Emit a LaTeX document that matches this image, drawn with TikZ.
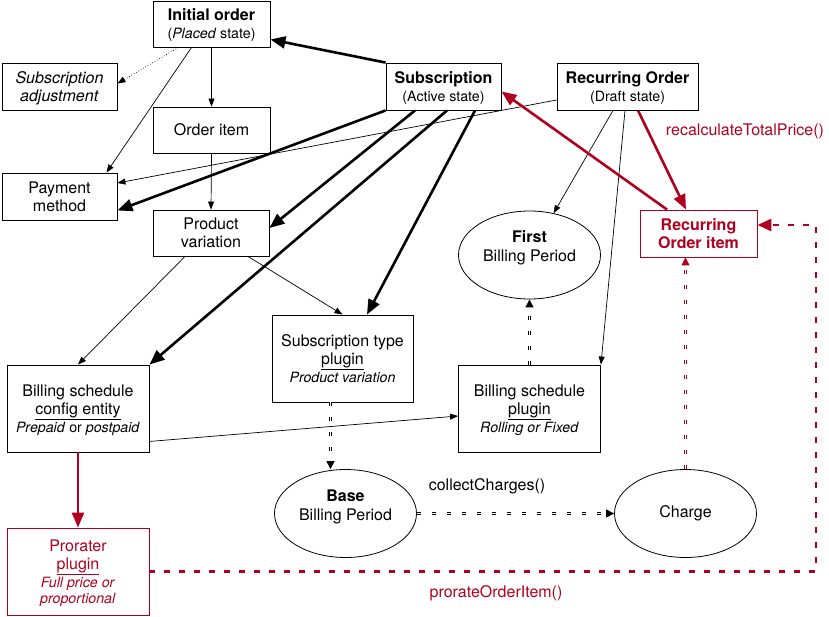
\documentclass[tikz,border=0pt]{standalone}
\usepackage{fontspec}
\setmainfont{TeX Gyre Heros}
\usetikzlibrary{shapes, arrows.meta, positioning, calc}
\definecolor{ordred}{RGB}{176,0,32}
\newcommand{\sub}[1]{{\fontsize{14.2}{17}\selectfont #1}}

\begin{document}
\begin{tikzpicture}[x=1pt, y=-1pt,
    box/.style={rectangle, draw, line width=0.9pt, fill=white, font=\fontsize{16}{18}\selectfont, align=center, inner sep=1pt, text depth=-6pt},
    redbox/.style={box, draw=ordred, text=ordred},
    period/.style={ellipse, draw, line width=0.8pt, font=\fontsize{16}{19}\selectfont, align=center, inner sep=0pt, minimum width=142pt, minimum height=88pt},
    link/.style={-{Triangle[length=8pt, width=6pt]}, line width=0.7pt},
    heavy/.style={-{Triangle[length=15pt, width=12pt]}, line width=2.6pt},
    hollow/.style={-{Triangle[length=8pt, width=8pt]}, line width=1pt, double, double distance=1pt, dash pattern=on 4pt off 11pt},
    note/.style={font=\fontsize{16}{19}\selectfont}
]
    \useasboundingbox (0,0) rectangle (829,616);

    % orders
    \node [box, minimum width=117pt, minimum height=46pt] (initial) at (211.5,24)
        {\textbf{Initial order}\\ \sub{(\textit{Placed} state)}};
    \node [box, minimum width=115pt, minimum height=47pt] (adjust) at (59.5,86.5)
        {\textit{Subscription}\\ \textit{adjustment}};
    \node [box, minimum width=117pt, minimum height=46pt, text depth=-1pt] (item) at (211.5,130) {Order item};
    \node [box, minimum width=115pt, minimum height=47pt] (payment) at (59.5,196.5) {Payment\\ method};
    \node [box, minimum width=116pt, minimum height=46pt] (variation) at (211,233) {Product\\ variation};
    \node [box, minimum width=115pt, minimum height=47pt] (subscr) at (443.5,86.5)
        {\textbf{Subscription}\\ \sub{(Active state)}};
    \node [box, minimum width=141pt, minimum height=47pt] (recur) at (627.5,86.5)
        {\textbf{Recurring Order}\\ \sub{(Draft state)}};
    \node [redbox, minimum width=117pt, minimum height=47pt] (recitem) at (698.5,233.5)
        {\textbf{Recurring}\\ \textbf{Order item}};

    % billing
    \node [period] (firstbp) at (529.5,255) {\textbf{First}\\ Billing Period\\[-2pt] \mbox{}};
    \node [box, minimum width=141pt, minimum height=87pt] (typeplug) at (342.5,358.5)
        {Subscription type\\ \underline{plugin}\\ \sub{\textit{Product variation}}};
    \node [box, minimum width=142pt, minimum height=87pt] (schedplug) at (529.5,408.5)
        {Billing schedule\\ \underline{plugin}\\ \sub{\textit{Rolling or Fixed}}};
    \node [box, minimum width=142pt, minimum height=87pt] (schedcfg) at (78,408.5)
        {Billing schedule\\ \underline{config entity}\\ \sub{\textit{Prepaid} or \textit{postpaid}}};
    \node [period] (basebp) at (345.5,513.5) {\textbf{Base}\\ Billing Period\\[-2pt] \mbox{}};
    \node [period] (charge) at (685.5,513.5) {Charge};
    \node [redbox, minimum width=142pt, minimum height=87pt] (prorater) at (78,571.5)
        {Prorater\\ \underline{plugin}\\ \sub{\textit{Full price or}}\\[-2pt] \sub{\textit{proportional}}};

    % method labels
    \node [note, text=ordred] (recalc) at (745,131) {recalculateTotalPrice()};
    \node [note] (collect) at (487,486) {collectCharges()};
    \node [note, text=ordred] (prorate) at (496,593) {prorateOrderItem()};
    \coordinate (bend) at (816,225);

    % connectors
    \draw [heavy] (subscr.north west) -- ([yshift=8pt]initial.south east);
    \draw [link, dotted] ([xshift=-33pt]initial.south) -- ([yshift=3pt]adjust.east);
    \draw [link] (initial.south) -- (item.north);
    \draw [link] ([xshift=-20pt]initial.south) -- ([xshift=47pt]payment.north);
    \draw [link] (item.south) -- (variation.north);
    \draw [heavy] (subscr.south west) -- ([yshift=10pt]payment.south east);
    \draw [link] ([yshift=-13.5pt]recur.west) -- ([yshift=13.5pt]payment.east);
    \draw [heavy] ([xshift=-28.5pt]subscr.south) -- ([yshift=5pt]variation.east);
    \draw [heavy] ([xshift=3.5pt]subscr.south) -- (schedcfg.north east);
    \draw [heavy] ([xshift=31.5pt]subscr.south) -- ([xshift=24.5pt]typeplug.north);
    \draw [link] ([xshift=-26pt]variation.south) -- (schedcfg.north);
    \draw [link] ([xshift=37pt]variation.south) -- (typeplug.north);
    \draw [link] ([yshift=11pt]schedcfg.south east) -- ([yshift=-7.5pt]schedplug.west);
    \draw [link] ([xshift=-14.5pt]recur.south) -- (firstbp.60);
    \draw [link] ([xshift=-2.5pt]recur.south) -- (schedplug.north east);
    \draw [heavy, draw=ordred, fill=ordred] ([xshift=-31.5pt]recitem.north) -- ([yshift=-5pt]subscr.east);
    \draw [heavy, draw=ordred, fill=ordred] ([xshift=10.5pt]recur.south) -- ([xshift=-12.5pt]recitem.north);
    \draw [heavy, draw=ordred, fill=ordred] (schedcfg.south) -- (prorater.north);
    \draw [hollow] ([xshift=-12pt]typeplug.south) -- ([xshift=-12pt]typeplug.south |- basebp.north);
    \draw [hollow] (schedplug.north) -- (firstbp.south);
    \draw [hollow, draw=ordred] (charge.north) -- (charge.north |- recitem.south);
    \draw [hollow] (basebp.east) -- (charge.west);
    \draw [ordred, line width=2.8pt, dash pattern=on 6pt off 9pt, -{Triangle[length=14pt, width=12pt]}]
        (prorater.east) -| (bend) -- ([yshift=8.5pt]recitem.east);
\end{tikzpicture}
\end{document}
